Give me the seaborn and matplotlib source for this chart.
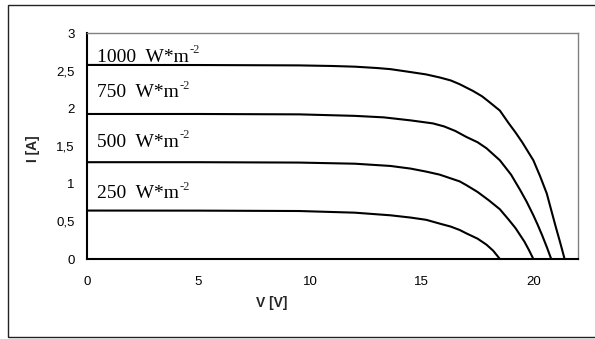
import seaborn as sns
import matplotlib.pyplot as plt
import matplotlib.patches as patches

# I-V curves (V in volts, I in amps)
V_1000 = [0, 5, 9.5, 11, 12, 13, 13.6, 14.3, 15.2, 15.8, 16.3, 16.7, 17.3, 17.7, 18.0, 18.5,
          18.9, 19.2, 19.5, 19.75, 20.0, 20.3, 20.6, 20.8, 21.0, 21.2, 21.4]
I_1000 = [2.576, 2.575, 2.57, 2.562, 2.553, 2.535, 2.52, 2.49, 2.45, 2.41, 2.37, 2.32, 2.23, 2.16,
          2.09, 1.97, 1.80, 1.68, 1.55, 1.43, 1.31, 1.10, 0.87, 0.65, 0.43, 0.22, 0.0]

V_750 = [0, 5, 9.5, 12, 13.3, 14.5, 15.5, 16.0, 16.5, 17.0, 17.5, 17.9, 18.5, 19.0, 19.4,
         19.7, 20.0, 20.2, 20.4, 20.6, 20.8]
I_750 = [1.925, 1.925, 1.92, 1.90, 1.88, 1.84, 1.80, 1.76, 1.70, 1.62, 1.55, 1.47, 1.31, 1.12,
         0.92, 0.76, 0.58, 0.45, 0.31, 0.16, 0.0]

V_500 = [0, 5, 9.5, 12, 13.6, 14.5, 15.2, 15.8, 16.3, 16.7, 17.0, 17.5, 18.0, 18.5, 18.9,
         19.2, 19.6, 19.8, 20.0]
I_500 = [1.285, 1.285, 1.28, 1.265, 1.235, 1.20, 1.16, 1.12, 1.07, 1.03, 0.98, 0.89, 0.78,
         0.66, 0.52, 0.41, 0.23, 0.12, 0.0]

V_250 = [0, 5, 9.5, 12, 13.6, 14.5, 15.2, 15.8, 16.3, 16.7, 17.0, 17.5, 17.9, 18.2, 18.5]
I_250 = [0.643, 0.642, 0.637, 0.615, 0.58, 0.55, 0.52, 0.47, 0.43, 0.385, 0.34, 0.27, 0.19,
         0.11, 0.0]

curves = [(V_1000, I_1000), (V_750, I_750), (V_500, I_500), (V_250, I_250)]
levels = ["1000", "750", "500", "250"]
label_y = [2.62, 2.15, 1.49, 0.81]

x_ticks = [0, 5, 10, 15, 20]
y_ticks = [0, 0.5, 1, 1.5, 2, 2.5, 3]
y_ticklabels = ["0", "0,5", "1", "1,5", "2", "2,5", "3"]

sns.set_style("white")
plt.rcParams["font.family"] = ["Liberation Sans", "DejaVu Sans"]

fig = plt.figure(figsize=(5.95, 3.39), dpi=100)
ax = fig.add_axes([87 / 595, 1 - 259 / 339, (578 - 87) / 595, (259 - 33) / 339])

# outer frame around the whole chart
fig.patches.append(patches.Rectangle((8 / 595, 2 / 339), 1.0, 332 / 339,
                                     transform=fig.transFigure, fill=False,
                                     edgecolor="#222222", linewidth=1.0))

for (v, i) in curves:
    sns.lineplot(x=v, y=i, ax=ax, color="black", linewidth=1.5)

fig.canvas.draw()
renderer = fig.canvas.get_renderer()
for lev, yy in zip(levels, label_y):
    t = ax.text(0.45, yy, lev + "  W*m", family="Liberation Serif",
                fontsize=14, ha="left", va="baseline", color="black")
    bb = t.get_window_extent(renderer)
    # superscript -2 placed just after the text
    ax.annotate("-2", xy=(0.45, yy), xycoords="data",
                xytext=(bb.width * 72 / 100 + 0.5, 6), textcoords="offset points",
                family="Liberation Serif", fontsize=9, ha="left", va="baseline")

ax.set_xlim(0, 22)
ax.set_ylim(0, 3)
ax.set_xticks(x_ticks)
ax.set_xticklabels([str(t) for t in x_ticks])
ax.set_yticks(y_ticks)
ax.set_yticklabels(y_ticklabels)
ax.tick_params(axis="both", direction="out", length=4, width=1, colors="black",
               labelsize=9.5, pad=5)
ax.tick_params(axis="x", pad=8)

for s in ["left", "bottom"]:
    ax.spines[s].set_color("black")
    ax.spines[s].set_linewidth(1.5)
for s in ["top", "right"]:
    ax.spines[s].set_color("#808080")
    ax.spines[s].set_linewidth(1.0)

ax.set_xlabel("V [V]", fontsize=10, fontweight="bold")
ax.set_ylabel("I [A]", fontsize=10, fontweight="bold")
ax.xaxis.set_label_coords(0.377, -0.165)
ax.yaxis.set_label_coords(-0.096, 0.49)

fig.savefig("out.png", dpi=100, facecolor="white")
